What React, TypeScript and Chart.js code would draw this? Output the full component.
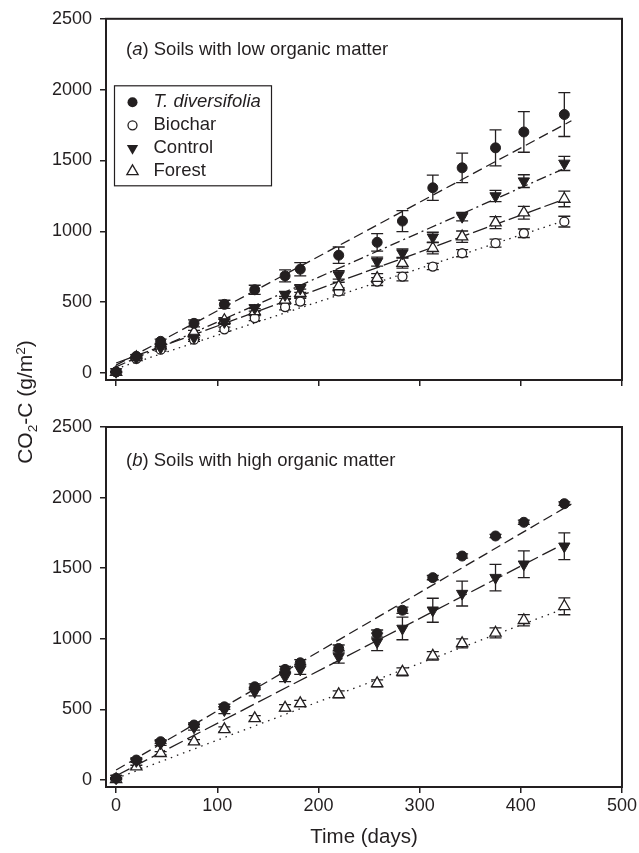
import React, { useEffect, useRef } from 'react';
import { Chart, registerables } from 'chart.js';

Chart.register(...registerables);

// ---------- data ----------
const days = [0, 20, 44, 77, 107, 137, 167, 182, 220, 258, 283, 313, 342, 375, 403, 443];

// (a) Soils with low organic matter
const tdivA = [8, 117, 223, 350, 484, 587, 685, 732, 831, 922, 1072, 1307, 1448, 1589, 1701, 1824];
const tdivAErr = [5, 12, 15, 25, 29, 32, 42, 47, 58, 62, 74, 89, 104, 127, 143, 155];
const biocharA = [5, 100, 164, 235, 308, 387, 465, 504, 575, 645, 680, 751, 845, 916, 986, 1068];
const biocharAErr = [3, 8, 10, 12, 15, 18, 20, 22, 25, 28, 30, 22, 25, 28, 30, 38];
const controlA = [8, 108, 178, 250, 360, 458, 551, 596, 692, 786, 845, 958, 1103, 1249, 1354, 1479];
const controlAErr = [3, 8, 10, 15, 18, 22, 25, 28, 30, 32, 30, 35, 30, 40, 45, 50];
const forestA = [5, 110, 192, 286, 372, 434, 516, 563, 610, 669, 775, 880, 962, 1061, 1131, 1228];
const forestAErr = [3, 8, 10, 15, 18, 20, 25, 28, 30, 32, 35, 40, 40, 42, 45, 55];

// fitted lines [day, value]
const tdivFitA = [[0, 55], [450, 1780]];
const controlFitA = [[0, 43], [441, 1437]];
const forestFitA = [[0, 70], [441, 1221]];
const biocharFitA = [[0, 30], [443, 1075]];

// (b) Soils with high organic matter
const tdivB = [12, 141, 271, 389, 518, 660, 783, 830, 931, 1037, 1202, 1433, 1586, 1728, 1825, 1957];
const tdivBErr = [5, 10, 12, 15, 18, 20, 22, 22, 25, 25, 22, 15, 15, 12, 15, 12];
const controlB = [12, 135, 260, 373, 495, 625, 731, 783, 872, 978, 1073, 1202, 1320, 1433, 1528, 1655];
const controlBErr = [5, 10, 15, 20, 25, 30, 35, 35, 45, 62, 80, 85, 88, 94, 95, 95];
const forestB = [5, 94, 189, 271, 358, 436, 511, 542, 606, 684, 766, 879, 967, 1042, 1131, 1230];
const forestBErr = [4, 10, 12, 15, 18, 20, 22, 22, 25, 25, 28, 30, 32, 35, 40, 60];

const tdivFitB = [[0, 70], [450, 1955]];
const controlFitB = [[0, 30], [444, 1678]];
const forestFitB = [[0, 10], [447, 1225]];

const xTicks = [0, 100, 200, 300, 400, 500];
const yTicks = [0, 500, 1000, 1500, 2000, 2500];

const legendLabels = ['T. diversifolia', 'Biochar', 'Control', 'Forest'];

// ---------- styling ----------
const FONT = '"Liberation Sans", Arial, Helvetica, sans-serif';
const INK = '#231f20';

type MStyle = 'fillCircle' | 'openCircle' | 'fillDown' | 'openUp';

function pointProps(style: MStyle) {
  switch (style) {
    case 'fillCircle':
      return { pointStyle: 'circle', pointRadius: 5, pointRotation: 0, pointBackgroundColor: INK, pointBorderColor: INK, pointBorderWidth: 1 };
    case 'openCircle':
      return { pointStyle: 'circle', pointRadius: 4.5, pointRotation: 0, pointBackgroundColor: '#fff', pointBorderColor: INK, pointBorderWidth: 1.3 };
    case 'fillDown':
      return { pointStyle: 'triangle', pointRadius: 6.5, pointRotation: 180, pointBackgroundColor: INK, pointBorderColor: INK, pointBorderWidth: 1 };
    case 'openUp':
      return { pointStyle: 'triangle', pointRadius: 6.5, pointRotation: 0, pointBackgroundColor: '#fff', pointBorderColor: INK, pointBorderWidth: 1.3 };
  }
}

function drawMarker(ctx: CanvasRenderingContext2D, style: MStyle, x: number, y: number) {
  ctx.save();
  ctx.strokeStyle = INK;
  ctx.fillStyle = INK;
  ctx.lineWidth = 1.3;
  ctx.beginPath();
  if (style === 'fillCircle' || style === 'openCircle') {
    ctx.arc(x, y, style === 'fillCircle' ? 5 : 4.5, 0, Math.PI * 2);
    if (style === 'fillCircle') ctx.fill(); else { ctx.fillStyle = '#fff'; ctx.fill(); ctx.stroke(); }
  } else {
    const r = 6.5;
    const rot = style === 'fillDown' ? Math.PI : 0;
    for (let k = 0; k < 3; k++) {
      const a = rot + k * (2 * Math.PI / 3);
      const px = x + Math.sin(a) * r;
      const py = y - Math.cos(a) * r;
      if (k === 0) ctx.moveTo(px, py); else ctx.lineTo(px, py);
    }
    ctx.closePath();
    if (style === 'fillDown') ctx.fill(); else { ctx.fillStyle = '#fff'; ctx.fill(); ctx.stroke(); }
  }
  ctx.restore();
}

function pointsDataset(label: string, values: number[], errors: number[], style: MStyle) {
  return {
    type: 'scatter',
    label,
    data: days.map((d, i) => ({ x: d, y: values[i] })),
    errors,
    showLine: false,
    ...pointProps(style),
  };
}

function fitDataset(label: string, fit: number[][], dash: number[]) {
  return {
    type: 'line',
    label,
    data: fit.map(p => ({ x: p[0], y: p[1] })),
    borderColor: INK,
    borderWidth: 1.3,
    borderDash: dash,
    pointRadius: 0,
    fill: false,
    tension: 0,
  };
}

// ---------- plugins ----------
const errorBarPlugin = {
  id: 'errorBars',
  beforeDatasetsDraw(chart: any) {
    const ctx = chart.ctx;
    const xs = chart.scales.x;
    const ys = chart.scales.y;
    ctx.save();
    ctx.strokeStyle = INK;
    ctx.lineWidth = 1.3;
    chart.data.datasets.forEach((ds: any) => {
      if (!ds.errors) return;
      ds.data.forEach((p: any, i: number) => {
        const e = ds.errors[i];
        const px = xs.getPixelForValue(p.x);
        const top = ys.getPixelForValue(p.y + e);
        const bot = ys.getPixelForValue(p.y - e);
        ctx.beginPath();
        ctx.moveTo(px, top); ctx.lineTo(px, bot);
        ctx.moveTo(px - 6, top); ctx.lineTo(px + 6, top);
        ctx.moveTo(px - 6, bot); ctx.lineTo(px + 6, bot);
        ctx.stroke();
      });
    });
    ctx.restore();
  },
};

const framePlugin = {
  id: 'frame',
  afterDatasetsDraw(chart: any) {
    const { ctx, chartArea: a } = chart;
    ctx.save();
    ctx.strokeStyle = INK;
    ctx.lineWidth = 2;
    ctx.strokeRect(a.left, a.top, a.right - a.left, a.bottom - a.top);
    ctx.restore();
  },
};

const panelTitlePlugin = {
  id: 'panelTitle',
  afterDraw(chart: any, _args: any, opts: any) {
    if (!opts || !opts.letter) return;
    const ctx = chart.ctx;
    const a = chart.chartArea;
    ctx.save();
    ctx.fillStyle = INK;
    ctx.textBaseline = 'middle';
    ctx.textAlign = 'left';
    let x = a.left + 20;
    const y = a.top + opts.dy;
    ctx.font = `18.5px ${FONT}`;
    ctx.fillText('(', x, y);
    x += ctx.measureText('(').width;
    ctx.font = `italic 18.5px ${FONT}`;
    ctx.fillText(opts.letter, x, y);
    x += ctx.measureText(opts.letter).width;
    ctx.font = `18.5px ${FONT}`;
    ctx.fillText(') ' + opts.text, x, y);
    ctx.restore();
  },
};

const legendPlugin = {
  id: 'boxLegend',
  afterDraw(chart: any, _args: any, opts: any) {
    if (!opts || !opts.show) return;
    const ctx = chart.ctx;
    const a = chart.chartArea;
    const bx = a.left + 8.5;
    const by = a.top + 67;
    const bw = 157;
    const bh = 100;
    ctx.save();
    ctx.fillStyle = '#fff';
    ctx.fillRect(bx, by, bw, bh);
    ctx.strokeStyle = INK;
    ctx.lineWidth = 1.2;
    ctx.strokeRect(bx, by, bw, bh);
    const styles: MStyle[] = ['fillCircle', 'openCircle', 'fillDown', 'openUp'];
    const rowsY = [16.5, 39.5, 62.5, 85.5];
    legendLabels.forEach((lab, i) => {
      const y = by + rowsY[i];
      drawMarker(ctx, styles[i], bx + 18, y);
      ctx.fillStyle = INK;
      ctx.textBaseline = 'middle';
      ctx.textAlign = 'left';
      ctx.font = (i === 0 ? 'italic ' : '') + `18.5px ${FONT}`;
      ctx.fillText(lab, bx + 39, y);
    });
    ctx.restore();
  },
};

function makeScales(showXLabels: boolean, xHeight: number) {
  return {
    x: {
      type: 'linear',
      min: -10,
      max: 500,
      afterBuildTicks: (s: any) => { s.ticks = xTicks.map(v => ({ value: v })); },
      afterFit: (s: any) => { s.height = xHeight; },
      border: { display: false },
      grid: { drawOnChartArea: false, drawTicks: true, tickLength: 6, color: INK, lineWidth: 1.5 },
      ticks: { display: showXLabels, color: INK, font: { family: FONT, size: 18 }, padding: 2, maxRotation: 0, callback: (v: any) => String(v) },
      title: showXLabels
        ? { display: true, text: 'Time (days)', color: INK, font: { family: FONT, size: 20.5 }, padding: { top: 0, bottom: 3 } }
        : { display: false },
    },
    y: {
      type: 'linear',
      min: -50,
      max: 2500,
      afterBuildTicks: (s: any) => { s.ticks = yTicks.map(v => ({ value: v })); },
      afterFit: (s: any) => { s.width = 106; },
      border: { display: false },
      grid: { drawOnChartArea: false, drawTicks: true, tickLength: 6, color: INK, lineWidth: 1.5 },
      ticks: { color: INK, font: { family: FONT, size: 18 }, padding: 8, callback: (v: any) => String(v) },
    },
  };
}

function PanelChart(props: { which: 'a' | 'b'; height: number }) {
  const ref = useRef<HTMLCanvasElement | null>(null);
  useEffect(() => {
    if (!ref.current) return;
    const isA = props.which === 'a';
    const datasets: any[] = isA
      ? [
          pointsDataset('T. diversifolia', tdivA, tdivAErr, 'fillCircle'),
          pointsDataset('Control', controlA, controlAErr, 'fillDown'),
          pointsDataset('Forest', forestA, forestAErr, 'openUp'),
          pointsDataset('Biochar', biocharA, biocharAErr, 'openCircle'),
          fitDataset('T. diversifolia fit', tdivFitA, [10, 5]),
          fitDataset('Control fit', controlFitA, [10, 4, 2, 4]),
          fitDataset('Forest fit', forestFitA, [15, 4]),
          fitDataset('Biochar fit', biocharFitA, [1.5, 4.5]),
        ]
      : [
          pointsDataset('T. diversifolia', tdivB, tdivBErr, 'fillCircle'),
          pointsDataset('Control', controlB, controlBErr, 'fillDown'),
          pointsDataset('Forest', forestB, forestBErr, 'openUp'),
          fitDataset('T. diversifolia fit', tdivFitB, [10, 5]),
          fitDataset('Control fit', controlFitB, [15, 5]),
          fitDataset('Forest fit', forestFitB, [1.5, 5]),
        ];
    const chart = new Chart(ref.current, {
      type: 'scatter',
      data: { datasets },
      options: {
        responsive: false,
        animation: false,
        events: [],
        layout: { padding: isA ? { left: 0, right: 17, top: 18, bottom: 0 } : { left: 0, right: 17, top: 27, bottom: 0 } },
        scales: makeScales(!isA, isA ? 20 : 66) as any,
        plugins: {
          legend: { display: false },
          tooltip: { enabled: false },
          panelTitle: isA
            ? { letter: 'a', text: 'Soils with low organic matter', dy: 31 }
            : { letter: 'b', text: 'Soils with high organic matter', dy: 34 },
          boxLegend: { show: isA },
        } as any,
      },
      plugins: [errorBarPlugin, framePlugin, panelTitlePlugin, legendPlugin],
    } as any);
    return () => chart.destroy();
  }, [props.which]);
  return <canvas ref={ref} width={639} height={props.height} style={{ display: 'block' }} />;
}

export default function App() {
  return (
    <div style={{ position: 'fixed', left: 0, top: 0, width: 639, height: 853, background: '#fff', overflow: 'hidden' }}>
      <div style={{ position: 'absolute', left: 0, top: 0 }}>
        <PanelChart which="a" height={400} />
      </div>
      <div style={{ position: 'absolute', left: 0, top: 400 }}>
        <PanelChart which="b" height={453} />
      </div>
      <div
        style={{
          position: 'absolute',
          left: 25 - 110,
          top: 402 - 13,
          width: 220,
          height: 26,
          lineHeight: '26px',
          textAlign: 'center',
          whiteSpace: 'nowrap',
          transform: 'rotate(-90deg)',
          fontFamily: FONT,
          fontSize: 21,
          color: INK,
        }}
      >
        CO<span style={{ fontSize: '0.65em', position: 'relative', top: '0.35em' }}>2</span>-C (g/m
        <span style={{ fontSize: '0.65em', position: 'relative', top: '-0.55em' }}>2</span>)
      </div>
    </div>
  );
}
